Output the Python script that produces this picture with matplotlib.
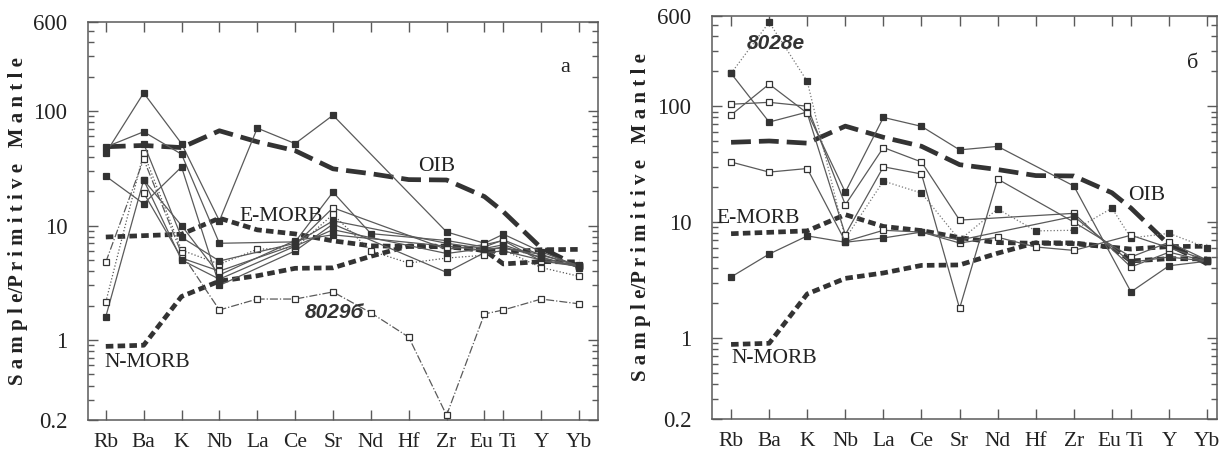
import numpy as np
import matplotlib.pyplot as plt
from matplotlib.ticker import FixedLocator, FixedFormatter, NullFormatter
from matplotlib.transforms import ScaledTranslation

plt.rcParams['font.family'] = ['Liberation Serif', 'DejaVu Serif']

elements = ["Rb", "Ba", "K", "Nb", "La", "Ce", "Sr", "Nd", "Hf", "Zr", "Eu", "Ti", "Y", "Yb"]
# Eu i Ti staar tettere paa aksen
xpos = np.array([0, 1, 2, 3, 4, 5, 6, 7, 8, 9, 10, 10.5, 11.5, 12.5])

# referansekurver (normert til primitiv mantel)
oib = [48.8, 50.1, 48.0, 67.3, 53.9, 45.1, 31.3, 28.4, 25.2, 25.0, 17.9, 13.2, 6.37, 4.38]
emorb = [7.94, 8.16, 8.4, 11.6, 9.17, 8.45, 7.35, 6.65, 6.57, 6.52, 6.07, 4.62, 4.84, 4.81]
nmorb = [0.88, 0.90, 2.4, 3.27, 3.64, 4.23, 4.27, 5.39, 6.63, 6.61, 6.07, 5.85, 6.15, 6.19]

nan = np.nan
# panel a
a1 = [43, 144, 52, 11, 71, 52, 92, nan, nan, 8.8, 7.0, 8.4, 5.9, 4.4]
a2 = [48.5, 66, 42, 7.0, nan, 7.2, 19.6, 8.5, nan, 7.4, 6.5, 7.5, 5.5, 4.5]
a3 = [27, 15.5, 32.5, 3.0, nan, 6.0, 10.3, nan, nan, 3.9, 5.8, 6.0, 5.0, 4.4]
a4 = [1.6, 25, 10, 3.7, nan, 7.4, 8.3, nan, nan, 6.6, 6.1, 6.5, 5.3, 4.3]
a5 = [2.15, 43, 6.1, 4.6, 6.2, 6.4, 12.5, 6.0, 4.7, 5.2, 5.5, 6.1, 4.3, 3.6]
a6 = [4.8, 38, 5.7, 1.83, 2.28, 2.28, 2.63, 1.73, 1.06, 0.22, 1.69, 1.83, 2.28, 2.07]  # 8029б
a7 = [nan, 19.3, 5.2, 4.0, nan, 6.8, 14.3, nan, nan, 6.2, 6.8, 7.4, 4.9, 4.4]
a8 = [nan, 52, 7.9, 4.9, nan, 7.0, 11.0, nan, nan, 7.0, 6.3, 6.8, 5.2, 4.4]
a9 = [nan, 25, 5.0, 3.4, nan, 6.6, 9.2, nan, nan, 5.7, 6.3, 6.3, 5.6, 4.4]

# panel б
b1 = [192, 530, 164, 7.2, 22.6, 17.8, 7.0, 13.0, 8.4, 8.5, 13.2, 7.3, 8.0, 6.0]  # 8028е
b2 = [192, 73, 89, 18.1, 80, 67, 42, 45, nan, 20.5, nan, 2.5, 4.2, 4.6]
b3 = [104, 108, 100, 14.1, 44, 33, 10.4, nan, nan, 11.9, nan, 4.1, 5.5, 4.6]
b4 = [84, 155, 87, 7.8, 30, 26, 1.8, 23.5, nan, 10.0, nan, 5.0, 6.7, 4.7]
b5 = [33, 27, 29, 6.8, 8.5, 8.2, 6.6, 7.4, 6.1, 5.7, nan, 7.7, 6.0, 4.7]
b6 = [3.36, 5.3, 7.6, 6.7, 7.3, 8.2, 7.0, nan, nan, 11.2, nan, 4.5, 5.0, 4.6]

dark = "#333333"
grey = "#5a5a5a"


def sample(ax, y, filled, ls="-", lc=grey):
    y = np.array(y, dtype=float)
    ok = ~np.isnan(y)
    ax.plot(xpos[ok], y[ok], ls=ls, color=lc, lw=0.9, marker="s", ms=4.6,
            mfc=dark if filled else "white", mec=dark, mew=0.9, zorder=3)


def base(ax):
    ax.plot(xpos, oib, color=dark, lw=3.4, dashes=(4.2, 1.7), zorder=2)
    ax.plot(xpos, emorb, color=dark, lw=3.4, dashes=(1.6, 0.9), zorder=2)
    ax.plot(xpos, nmorb, color=dark, lw=3.4, dashes=(1.6, 0.9), zorder=2)
    ax.set_yscale("log")
    ax.set_ylim(0.2, 600)
    ax.set_xticks(xpos)
    ax.set_xticklabels(elements)
    ax.yaxis.set_major_locator(FixedLocator([0.2, 1, 10, 100, 600]))
    ax.yaxis.set_major_formatter(FixedFormatter(["0.2", "1", "10", "100", "600"]))
    minor = [v * m for m in (0.1, 1, 10, 100) for v in range(2, 10)]
    minor = [v for v in minor if 0.2 < v < 600 and v not in (1, 10, 100)]
    ax.yaxis.set_minor_locator(FixedLocator(minor))
    ax.yaxis.set_minor_formatter(NullFormatter())
    ax.tick_params(axis="both", which="major", direction="in", length=7, width=1.0,
                   color=grey, top=True, right=True, labelcolor="#222222")
    ax.tick_params(axis="y", which="minor", direction="in", length=4.5, width=1.0,
                   color=grey, right=True)
    ax.tick_params(axis="x", pad=9, labelsize=15.5)
    ax.tick_params(axis="y", pad=15, labelsize=16.5)
    # Eu og Ti ligger tett, skyv etikettene litt fra hverandre
    lab = ax.get_xticklabels()
    lab[10].set_transform(lab[10].get_transform() + ScaledTranslation(-2 / 72, 0, fig.dpi_scale_trans))
    lab[11].set_transform(lab[11].get_transform() + ScaledTranslation(3 / 72, 0, fig.dpi_scale_trans))
    for s in ax.spines.values():
        s.set_color(grey)
        s.set_linewidth(1.1)
    ax.set_ylabel("S a m p l e/P r i m i t i v e   M a n t l e", fontsize=15,
                  fontweight="bold", color="#222222")


fig = plt.figure(figsize=(12.19, 4.55), dpi=100)
ax1 = fig.add_axes([0.0722, 0.0769, 0.4184, 0.8747])
ax2 = fig.add_axes([0.5841, 0.0791, 0.4143, 0.8857])

# venstre panel
base(ax1)
for y, f, ls in [(a1, True, "-"), (a2, True, "-"), (a3, True, "-"), (a4, True, "-"),
                 (a5, False, ":"), (a6, False, "-."), (a7, False, "-"),
                 (a8, True, "-"), (a9, True, "-")]:
    sample(ax1, y, f, ls)
ax1.set_xlim(-0.47, 13.0)
ax1.yaxis.set_label_coords(-0.118, 0.5)
ax1.text(8.75, 33, "OIB", fontsize=15.5, ha="center", va="center", color="#222222")
ax1.text(3.54, 11.9, "E-MORB", fontsize=15.5, ha="left", va="center", color="#222222")
ax1.text(-0.03, 0.63, "N-MORB", fontsize=15.5, ha="left", va="center", color="#222222")
ax1.text(5.26, 1.73, "8029б", fontsize=15, ha="left", va="center", color="#333333",
         family=["Liberation Sans", "DejaVu Sans"], fontweight="bold", fontstyle="italic")
ax1.text(12.13, 238, "а", fontsize=16, ha="center", va="center", color="#222222")

# hoyre panel
base(ax2)
sample(ax2, b1, True, ":", "#777777")
for y, f in [(b2, True), (b3, False), (b4, False), (b5, False), (b6, True)]:
    sample(ax2, y, f)
ax2.set_xlim(-0.5, 12.76)
ax2.yaxis.set_label_coords(-0.121, 0.5)
ax2.text(10.92, 17, "OIB", fontsize=15.5, ha="center", va="center", color="#222222")
ax2.text(-0.39, 10.8, "E-MORB", fontsize=15.5, ha="left", va="center", color="#222222")
ax2.text(0.0, 0.67, "N-MORB", fontsize=15.5, ha="left", va="center", color="#222222")
ax2.text(0.42, 349, "8028е", fontsize=15, ha="left", va="center", color="#333333",
         family=["Liberation Sans", "DejaVu Sans"], fontweight="bold", fontstyle="italic")
ax2.text(12.13, 235, "б", fontsize=16, ha="center", va="center", color="#222222")

plt.savefig("out.png", dpi=100)
